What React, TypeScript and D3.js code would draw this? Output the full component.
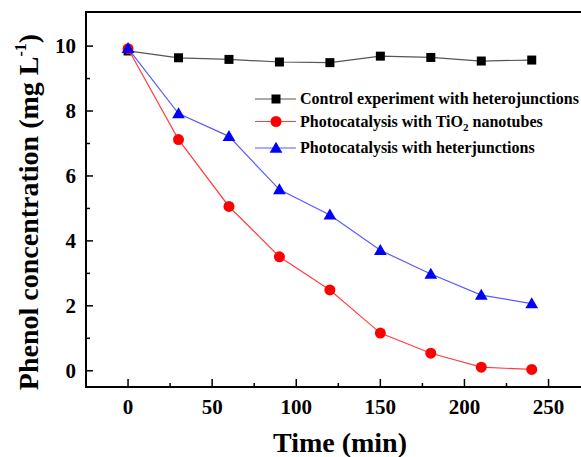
import React from 'react';
import * as d3 from 'd3';

const WIDTH = 581;
const HEIGHT = 457;

const MARGIN = { top: 12, right: -6, bottom: 70, left: 86 };

const times = [0, 30, 60, 90, 120, 150, 180, 210, 240];
const control = [9.85, 9.64, 9.59, 9.51, 9.49, 9.69, 9.65, 9.54, 9.57];
const tio2 = [9.92, 7.12, 5.06, 3.51, 2.49, 1.16, 0.54, 0.11, 0.04];
const hetero = [9.93, 7.92, 7.22, 5.58, 4.8, 3.71, 2.98, 2.33, 2.07];

const xTicks = [0, 50, 100, 150, 200, 250];
const yTicks = [0, 2, 4, 6, 8, 10];

const FONT = "'Liberation Serif', 'Times New Roman', Tinos, 'DejaVu Serif', serif";

type Series = { name: string; values: number[]; line: string; fill: string; shape: string };

const series: Series[] = [
  { name: 'control', values: control, line: '#555', fill: '#000', shape: 'square' },
  { name: 'tio2', values: tio2, line: '#ff4040', fill: '#ff0000', shape: 'circle' },
  { name: 'hetero', values: hetero, line: '#5a5aff', fill: '#0000ff', shape: 'triangle' },
];

const Marker = ({ shape, fill, x, y }: { shape: string; fill: string; x: number; y: number }) => {
  if (shape === 'square') {
    return <rect x={x - 4.5} y={y - 4.5} width={9} height={9} fill={fill} />;
  }
  if (shape === 'circle') {
    return <circle cx={x} cy={y} r={5.5} fill={fill} />;
  }
  const p = d3.symbol(d3.symbolTriangle, 70)();
  return <path d={p || ''} transform={`translate(${x},${y + 1})`} fill={fill} />;
};

export default function App() {
  const x = d3.scaleLinear()
    .domain([-25, 275])
    .range([MARGIN.left, MARGIN.left + 1.682 * 300]);

  const y = d3.scaleLinear()
    .domain([-0.5, 11.05])
    .range([HEIGHT - MARGIN.bottom, MARGIN.top]);

  const line = d3.line<number>()
    .x((_, i) => x(times[i]))
    .y(d => y(d));

  const x0 = MARGIN.left;
  const y0 = HEIGHT - MARGIN.bottom;
  const minorX = d3.range(-25, 275, 25).filter(v => v % 50 !== 0 && v > -25);
  const minorY = d3.range(1, 11, 2);

  const legend = [
    { s: series[0], label: <>Control experiment with heterojunctions</>, y: 99 },
    { s: series[1], label: <>Photocatalysis with TiO<tspan fontSize={11} dy={4}>2</tspan><tspan dy={-4}> nanotubes</tspan></>, y: 121.5 },
    { s: series[2], label: <>Photocatalysis with heterjunctions</>, y: 148 },
  ];

  return (
    <svg width={WIDTH} height={HEIGHT} style={{ position: 'absolute', left: 0, top: 0, background: '#fff', fontFamily: FONT, fontWeight: 'bold' }}>
      <rect width={WIDTH} height={HEIGHT} fill="#fff" />

      {/* data */}
      {series.map(s => (
        <g key={s.name}>
          <path d={line(s.values) || ''} fill="none" stroke={s.line} strokeWidth={1.2} />
          {s.values.map((v, i) => (
            <Marker key={i} shape={s.shape} fill={s.fill} x={x(times[i])} y={y(v)} />
          ))}
        </g>
      ))}

      {/* frame */}
      <line x1={x0} x2={WIDTH + 2} y1={MARGIN.top} y2={MARGIN.top} stroke="#000" strokeWidth={2} />
      <line x1={x0} x2={WIDTH + 2} y1={y0} y2={y0} stroke="#000" strokeWidth={2} />
      <line x1={x0} x2={x0} y1={MARGIN.top - 1} y2={y0 + 1} stroke="#000" strokeWidth={2} />

      {/* x ticks */}
      {xTicks.map(t => (
        <g key={t}>
          <line x1={x(t)} x2={x(t)} y1={y0} y2={y0 - 8} stroke="#000" strokeWidth={1.5} />
          <text x={x(t)} y={y0 + 27} textAnchor="middle" fontSize={21}>{t}</text>
        </g>
      ))}
      {minorX.map(t => (
        <line key={t} x1={x(t)} x2={x(t)} y1={y0} y2={y0 - 4} stroke="#000" strokeWidth={1.5} />
      ))}

      {/* y ticks */}
      {yTicks.map(t => (
        <g key={t}>
          <line x1={x0} x2={x0 + 7} y1={y(t)} y2={y(t)} stroke="#000" strokeWidth={1.5} />
          <text x={x0 - 10} y={y(t) + 7} textAnchor="end" fontSize={21}>{t}</text>
        </g>
      ))}
      {minorY.map(t => (
        <line key={t} x1={x0} x2={x0 + 4} y1={y(t)} y2={y(t)} stroke="#000" strokeWidth={1.5} />
      ))}

      {/* axis titles */}
      <text x={340} y={452} textAnchor="middle" fontSize={28}>Time (min)</text>
      <text transform="translate(38,212) rotate(-90)" textAnchor="middle" fontSize={28}>
        Phenol concentration (mg L<tspan fontSize={16} dy={-12}>-1</tspan><tspan dy={12}>)</tspan>
      </text>

      {/* legend */}
      {legend.map((l, i) => (
        <g key={i}>
          <line x1={255} x2={296} y1={l.y} y2={l.y} stroke={l.s.line} strokeWidth={1.2} />
          <Marker shape={l.s.shape} fill={l.s.fill} x={276} y={l.y} />
          <text x={300} y={l.y + 5} fontSize={16}>{l.label}</text>
        </g>
      ))}
    </svg>
  );
}
